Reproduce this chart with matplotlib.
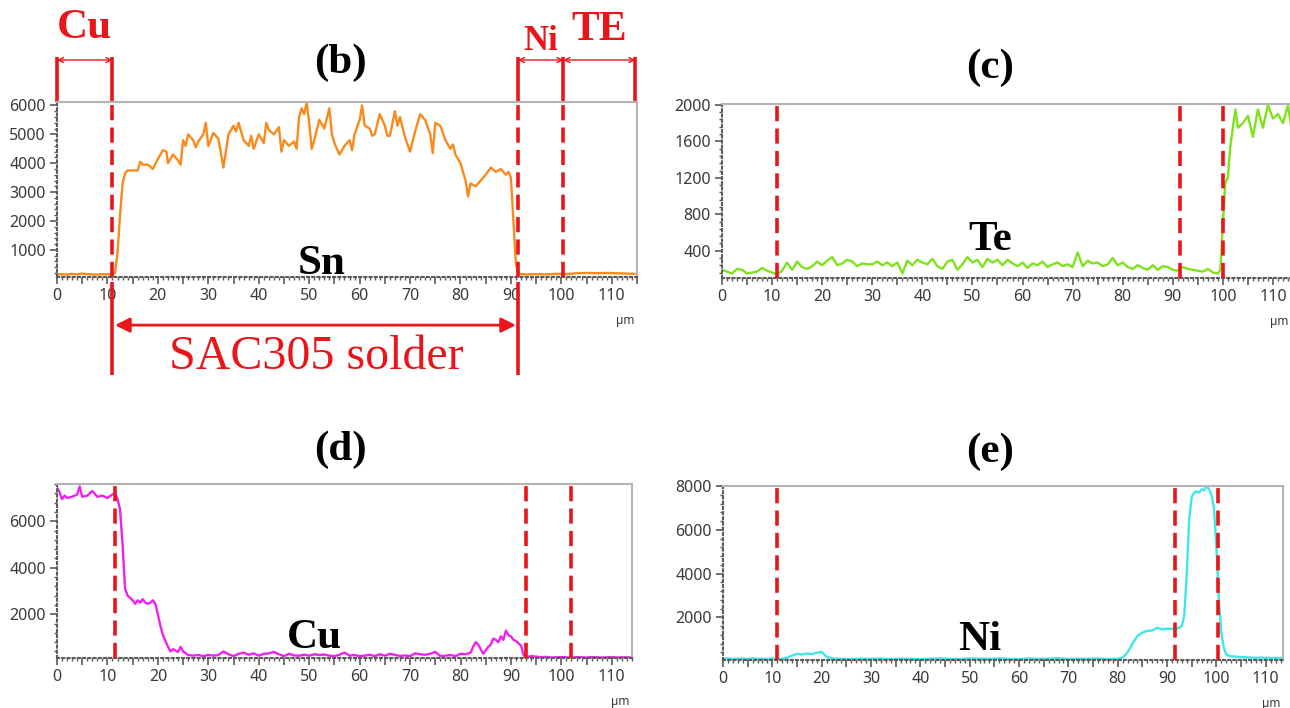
"""EDS line-scan profiles across the Cu / SAC305 / Ni / TE joint."""

import matplotlib
import matplotlib.pyplot as plt
import numpy as np
from matplotlib.ticker import FixedLocator, FuncFormatter, MultipleLocator

matplotlib.use("Agg")

RED = "#e8161b"
FRAME = "#b4b4b4"
AXIS = "#5a5a5a"

# Sn profile (counts vs. distance in µm)
SN_X = [0, 1, 2, 3, 4, 5, 6, 7, 8, 9,
        10, 11, 11.5, 12, 12.5, 13, 13.5, 14, 15, 16,
        16.5, 17, 18, 19, 20, 21, 21.7, 22, 23, 24,
        24.5, 25, 25.5, 26, 27, 27.5, 28, 29, 29.5, 30,
        31, 32, 33, 34, 35, 35.5, 36, 37, 38, 38.5,
        39, 40, 41, 41.5, 42, 43, 44, 44.5, 45, 46,
        47, 47.5, 48, 48.5, 49, 49.5, 50, 50.5, 51, 52,
        53, 54, 54.5, 55, 56, 57, 58, 58.5, 59, 60,
        60.5, 61, 62, 62.5, 63, 64, 65, 65.5, 66, 67,
        67.5, 68, 69, 70, 71, 72, 73, 74, 74.5, 75,
        76, 77, 78, 78.5, 79, 80, 81, 81.5, 82, 83,
        84, 85, 86, 87, 88, 89, 89.5, 90, 90.5, 91,
        91.5, 93, 95, 97, 99, 101, 103, 105, 107, 109,
        111, 113, 114.5]
SN_Y = [150, 160, 140, 170, 150, 180, 160, 150, 145, 160,
        150, 160, 200, 900, 2200, 3300, 3650, 3750, 3750, 3750,
        4050, 3950, 3950, 3800, 4150, 4450, 4400, 4000, 4300, 4100,
        3950, 4800, 4600, 5000, 4800, 4550, 4750, 5000, 5400, 4600,
        5050, 4850, 3850, 5000, 5300, 5100, 5400, 4800, 4600, 4950,
        4500, 5000, 4700, 5400, 5150, 5000, 5250, 4400, 4800, 4600,
        4750, 4500, 5600, 5900, 5700, 6100, 5400, 4500, 4800, 5500,
        5200, 5900, 5000, 4700, 4300, 4600, 4800, 4450, 5000, 5500,
        6000, 5300, 5200, 4950, 5000, 5700, 5300, 4950, 4950, 5800,
        5300, 5600, 4900, 4400, 5100, 5700, 5500, 5000, 4350, 5400,
        5300, 4800, 4500, 4650, 4300, 4000, 3400, 2850, 3300, 3200,
        3400, 3600, 3850, 3700, 3800, 3600, 3700, 3500, 2000, 500,
        170, 150, 160, 150, 170, 160, 190, 200, 190, 200,
        190, 180, 170]

# Te profile
TE_X = [0, 1, 2, 3, 4, 5, 6, 7, 8, 9,
        10, 11, 12, 13, 14, 15, 16, 17, 18, 19,
        20, 21, 22, 23, 24, 25, 26, 27, 28, 29,
        30, 31, 32, 33, 34, 35, 36, 37, 38, 39,
        40, 41, 42, 43, 44, 45, 46, 47, 48, 49,
        50, 51, 52, 53, 54, 55, 56, 57, 58, 59,
        60, 61, 62, 63, 64, 65, 66, 67, 68, 69,
        70, 71, 72, 73, 74, 75, 76, 77, 78, 79,
        80, 81, 82, 83, 84, 85, 86, 87, 88, 89,
        90, 91, 92, 93, 94, 95, 96, 97, 98, 99,
        99.5, 100, 100.5, 101, 101.5, 102, 102.5, 103, 104, 105,
        106, 107, 108, 109, 110, 111, 112, 113, 114, 114.5]
TE_Y = [190, 170, 150, 200, 190, 150, 160, 170, 210, 180,
        160, 140, 180, 270, 190, 280, 220, 200, 230, 280,
        240, 290, 330, 240, 260, 300, 280, 230, 260, 250,
        250, 280, 240, 270, 230, 270, 150, 290, 240, 300,
        270, 250, 310, 230, 200, 280, 300, 190, 250, 330,
        270, 300, 220, 310, 270, 300, 240, 300, 260, 230,
        270, 210, 260, 240, 280, 220, 250, 270, 230, 250,
        220, 380, 230, 290, 260, 270, 230, 250, 320, 240,
        270, 220, 200, 240, 210, 190, 240, 190, 230, 220,
        190, 180, 220, 200, 190, 180, 170, 200, 160, 150,
        190, 700, 1150, 1200, 1550, 1750, 1950, 1750, 1800, 1880,
        1650, 1950, 1750, 2000, 1850, 1900, 1800, 2000, 1620, 1750]

# Cu profile
CU_X = [0, 0.5, 1, 1.5, 2, 3, 4, 4.5, 5, 6,
        7, 8, 9, 10, 11, 11.5, 12, 12.5, 13, 13.5,
        14, 15, 15.5, 16, 16.5, 17, 17.5, 18, 18.5, 19,
        19.5, 20, 20.5, 21, 22, 22.5, 23, 24, 24.5, 25,
        26, 27, 28, 29, 30, 31, 32, 33, 34, 35,
        36, 37, 38, 39, 40, 41, 42, 43, 44, 45,
        46, 47, 48, 49, 50, 51, 52, 53, 54, 55,
        56, 57, 58, 59, 60, 61, 62, 63, 64, 65,
        66, 67, 68, 69, 70, 71, 72, 73, 74, 75,
        76, 77, 78, 79, 80, 81, 82, 82.5, 83, 83.5,
        84, 84.5, 85, 85.5, 86, 86.5, 87, 87.5, 88, 88.5,
        89, 89.5, 90, 90.5, 91, 91.5, 92, 92.5, 93, 94,
        95, 96, 97, 98, 99, 100, 101, 102, 103, 104,
        105, 106, 107, 108, 109, 110, 111, 112, 113, 114]
CU_Y = [7450, 7250, 6950, 7100, 7000, 7050, 7150, 7500, 7050, 7100,
        7300, 7050, 7100, 7000, 7150, 7200, 6950, 6500, 5000, 3100,
        2800, 2600, 2450, 2600, 2500, 2650, 2500, 2450, 2500, 2600,
        2450, 2000, 1500, 1100, 600, 400, 500, 380, 600, 400,
        250, 220, 250, 200, 250, 220, 250, 400, 280, 200,
        300, 350, 260, 320, 220, 300, 320, 380, 280, 200,
        300, 230, 220, 260, 220, 280, 250, 270, 220, 200,
        260, 350, 220, 250, 200, 220, 260, 200, 280, 220,
        300, 250, 210, 230, 200, 320, 280, 260, 300, 380,
        200, 220, 250, 200, 300, 280, 350, 600, 800, 700,
        500, 300, 450, 600, 700, 950, 900, 800, 1050, 900,
        1300, 1100, 1050, 900, 850, 750, 650, 250, 150, 200,
        180, 150, 170, 140, 150, 160, 150, 130, 160, 150,
        140, 160, 150, 140, 150, 160, 140, 150, 150, 140]

# Ni profile
NI_X = [0, 1, 2, 3, 4, 5, 6, 7, 8, 9,
        10, 11, 12, 13, 14, 15, 16, 17, 18, 19,
        20, 21, 22, 24, 26, 28, 30, 32, 34, 36,
        38, 40, 42, 44, 46, 48, 50, 52, 54, 56,
        58, 60, 62, 64, 66, 68, 70, 72, 74, 76,
        78, 80, 81, 82, 83, 84, 85, 86, 87, 88,
        89, 90, 91, 92, 93, 93.5, 94, 94.5, 95, 95.5,
        96, 96.5, 97, 97.5, 98, 98.5, 99, 99.5, 100, 100.5,
        101, 101.5, 102, 102.5, 103, 104, 105, 106, 107, 108,
        109, 110, 111, 112, 113, 114]
NI_Y = [100, 130, 90, 110, 120, 90, 130, 100, 110, 90,
        120, 100, 110, 150, 250, 330, 300, 350, 320, 380,
        420, 200, 120, 100, 90, 110, 100, 120, 90, 110,
        100, 80, 110, 120, 100, 90, 120, 110, 100, 130,
        100, 90, 120, 100, 110, 130, 90, 110, 100, 120,
        90, 110, 150, 400, 800, 1150, 1300, 1380, 1400, 1520,
        1450, 1480, 1470, 1480, 1600, 2100, 4000, 6500, 7500, 7700,
        7750, 7700, 7850, 7800, 8000, 7850, 7600, 7000, 5200, 2800,
        1300, 600, 300, 250, 220, 200, 180, 170, 160, 150,
        160, 150, 140, 150, 140, 150]

# Interface positions (µm) marked in each panel
SN_BOUNDS = [11.0, 91.4, 100.4]
TE_BOUNDS = [11.0, 91.4, 100.1]
CU_BOUNDS = [11.4, 92.9, 102.0]
NI_BOUNDS = [10.9, 91.7, 100.4]

W, H = 1290, 708


def _rect(left, right, top, bottom):
    """Axes rectangle from pixel edges."""
    return [left / W, 1 - bottom / H, (right - left) / W, (bottom - top) / H]


def style_axes(ax, xmax, ylim, yticks, yminor, unit_x=0.995):
    ax.set_xlim(0, xmax)
    ax.set_ylim(*ylim)
    ax.xaxis.set_major_locator(MultipleLocator(5))
    ax.xaxis.set_minor_locator(MultipleLocator(1))
    ax.xaxis.set_major_formatter(
        FuncFormatter(lambda v, _: f"{int(round(v))}" if round(v) % 10 == 0 else ""))
    ax.yaxis.set_major_locator(FixedLocator(yticks))
    ax.yaxis.set_minor_locator(MultipleLocator(yminor))
    ax.yaxis.set_major_formatter(FuncFormatter(lambda v, _: f"{int(v)}"))

    for side in ("top", "right"):
        ax.spines[side].set_color(FRAME)
        ax.spines[side].set_linewidth(1.5)
    for side in ("left", "bottom"):
        ax.spines[side].set_color(AXIS)
        ax.spines[side].set_linewidth(1.5)
        ax.spines[side].set_linestyle((0, (1, 1.5)))

    ax.tick_params(which="major", length=5, width=1.2, color=AXIS,
                   labelsize=11.5, labelcolor="#3a3a3a", pad=3)
    ax.tick_params(which="minor", length=2.5, width=1.0, color=AXIS)
    for lab in ax.get_xticklabels() + ax.get_yticklabels():
        lab.set_family("Noto Sans")
    ax.text(unit_x, -0.25, "µm", transform=ax.transAxes, ha="right", va="center",
            fontsize=8.5, color="#3a3a3a", family="Noto Sans", clip_on=False)


def draw_bounds(ax, bounds):
    for xb in bounds:
        ax.axvline(xb, color=RED, lw=2.6, dashes=(4.2, 2.0), zorder=3)


def draw_profile(ax, x, y, color, label, label_x, label_y):
    ax.plot(x, y, color=color, lw=1.7, zorder=2)
    ax.text(label_x, label_y, label, transform=ax.get_xaxis_transform(),
            ha="center", va="baseline", fontsize=31, fontweight="bold",
            family="Liberation Serif", color="black", zorder=4)


def annotate_layers(ax):
    """Layer brackets above and below the Sn panel."""
    tr = ax.get_xaxis_transform()
    red_text = dict(color=RED, family="Liberation Serif", ha="center", va="center")

    # short solid ticks above the frame
    for xb in (0.0, 11.0, 91.4, 100.4, 114.7):
        ax.plot([xb, xb], [1.0, 1.257], transform=tr, color=RED, lw=2.6,
                clip_on=False, solid_capstyle="butt")
    # extension lines below the frame around the solder layer
    for xb in (11.0, 91.4):
        ax.plot([xb, xb], [-0.03, -0.56], transform=tr, color=RED, lw=2.6,
                clip_on=False, solid_capstyle="butt")

    for x0, x1 in ((0.0, 11.0), (91.4, 100.4), (100.4, 114.7)):
        ax.annotate("", xy=(x1, 1.24), xytext=(x0, 1.24), xycoords=tr, textcoords=tr,
                    arrowprops=dict(arrowstyle="<->", color=RED, lw=1.0,
                                    shrinkA=0, shrinkB=0, mutation_scale=9))
    ax.annotate("", xy=(91.0, -0.275), xytext=(11.5, -0.275), xycoords=tr, textcoords=tr,
                arrowprops=dict(arrowstyle="<|-|>", color=RED, lw=2.0,
                                shrinkA=0, shrinkB=0, mutation_scale=22))

    ax.text(5.5, 1.42, "Cu", transform=tr, fontsize=31, fontweight="bold", **red_text)
    ax.text(95.9, 1.345, "Ni", transform=tr, fontsize=25, fontweight="bold", **red_text)
    ax.text(107.6, 1.41, "TE", transform=tr, fontsize=30, fontweight="bold", **red_text)
    ax.text(51.5, -0.46, "SAC305 solder", transform=tr, fontsize=34.5, **red_text)


fig = plt.figure(figsize=(W / 100, H / 100), dpi=100)

ax_sn = fig.add_axes(_rect(57, 637, 102, 277))
style_axes(ax_sn, 115, (60, 6120), [1000, 2000, 3000, 4000, 5000, 6000], 200)
draw_bounds(ax_sn, SN_BOUNDS)
draw_profile(ax_sn, SN_X, SN_Y, "#f98a1c", "Sn", 52.5, 0.015)
annotate_layers(ax_sn)

ax_te = fig.add_axes(_rect(722, 1298, 104, 278))
style_axes(ax_te, 115, (100, 2010), [400, 800, 1200, 1600, 2000], 80, unit_x=0.983)
draw_bounds(ax_te, TE_BOUNDS)
draw_profile(ax_te, TE_X, TE_Y, "#7ee21c", "Te", 53.5, 0.16)

ax_cu = fig.add_axes(_rect(57, 632, 484, 658))
style_axes(ax_cu, 114, (120, 7600), [2000, 4000, 6000], 400)
draw_bounds(ax_cu, CU_BOUNDS)
draw_profile(ax_cu, CU_X, CU_Y, "#ee22ee", "Cu", 51.0, 0.057)

ax_ni = fig.add_axes(_rect(723, 1283, 486, 660))
style_axes(ax_ni, 113.5, (50, 8000), [2000, 4000, 6000, 8000], 400)
draw_bounds(ax_ni, NI_BOUNDS)
draw_profile(ax_ni, NI_X, NI_Y, "#3fe6ea", "Ni", 52.0, 0.057)

for label, (px, py) in {"(b)": (340, 63), "(c)": (990, 68),
                        "(d)": (340, 450), "(e)": (990, 452)}.items():
    fig.text(px / W, 1 - py / H, label, ha="center", va="center", fontsize=31,
             fontweight="bold", family="Liberation Serif")

fig.savefig("out.png", dpi=100)
plt.close(fig)
